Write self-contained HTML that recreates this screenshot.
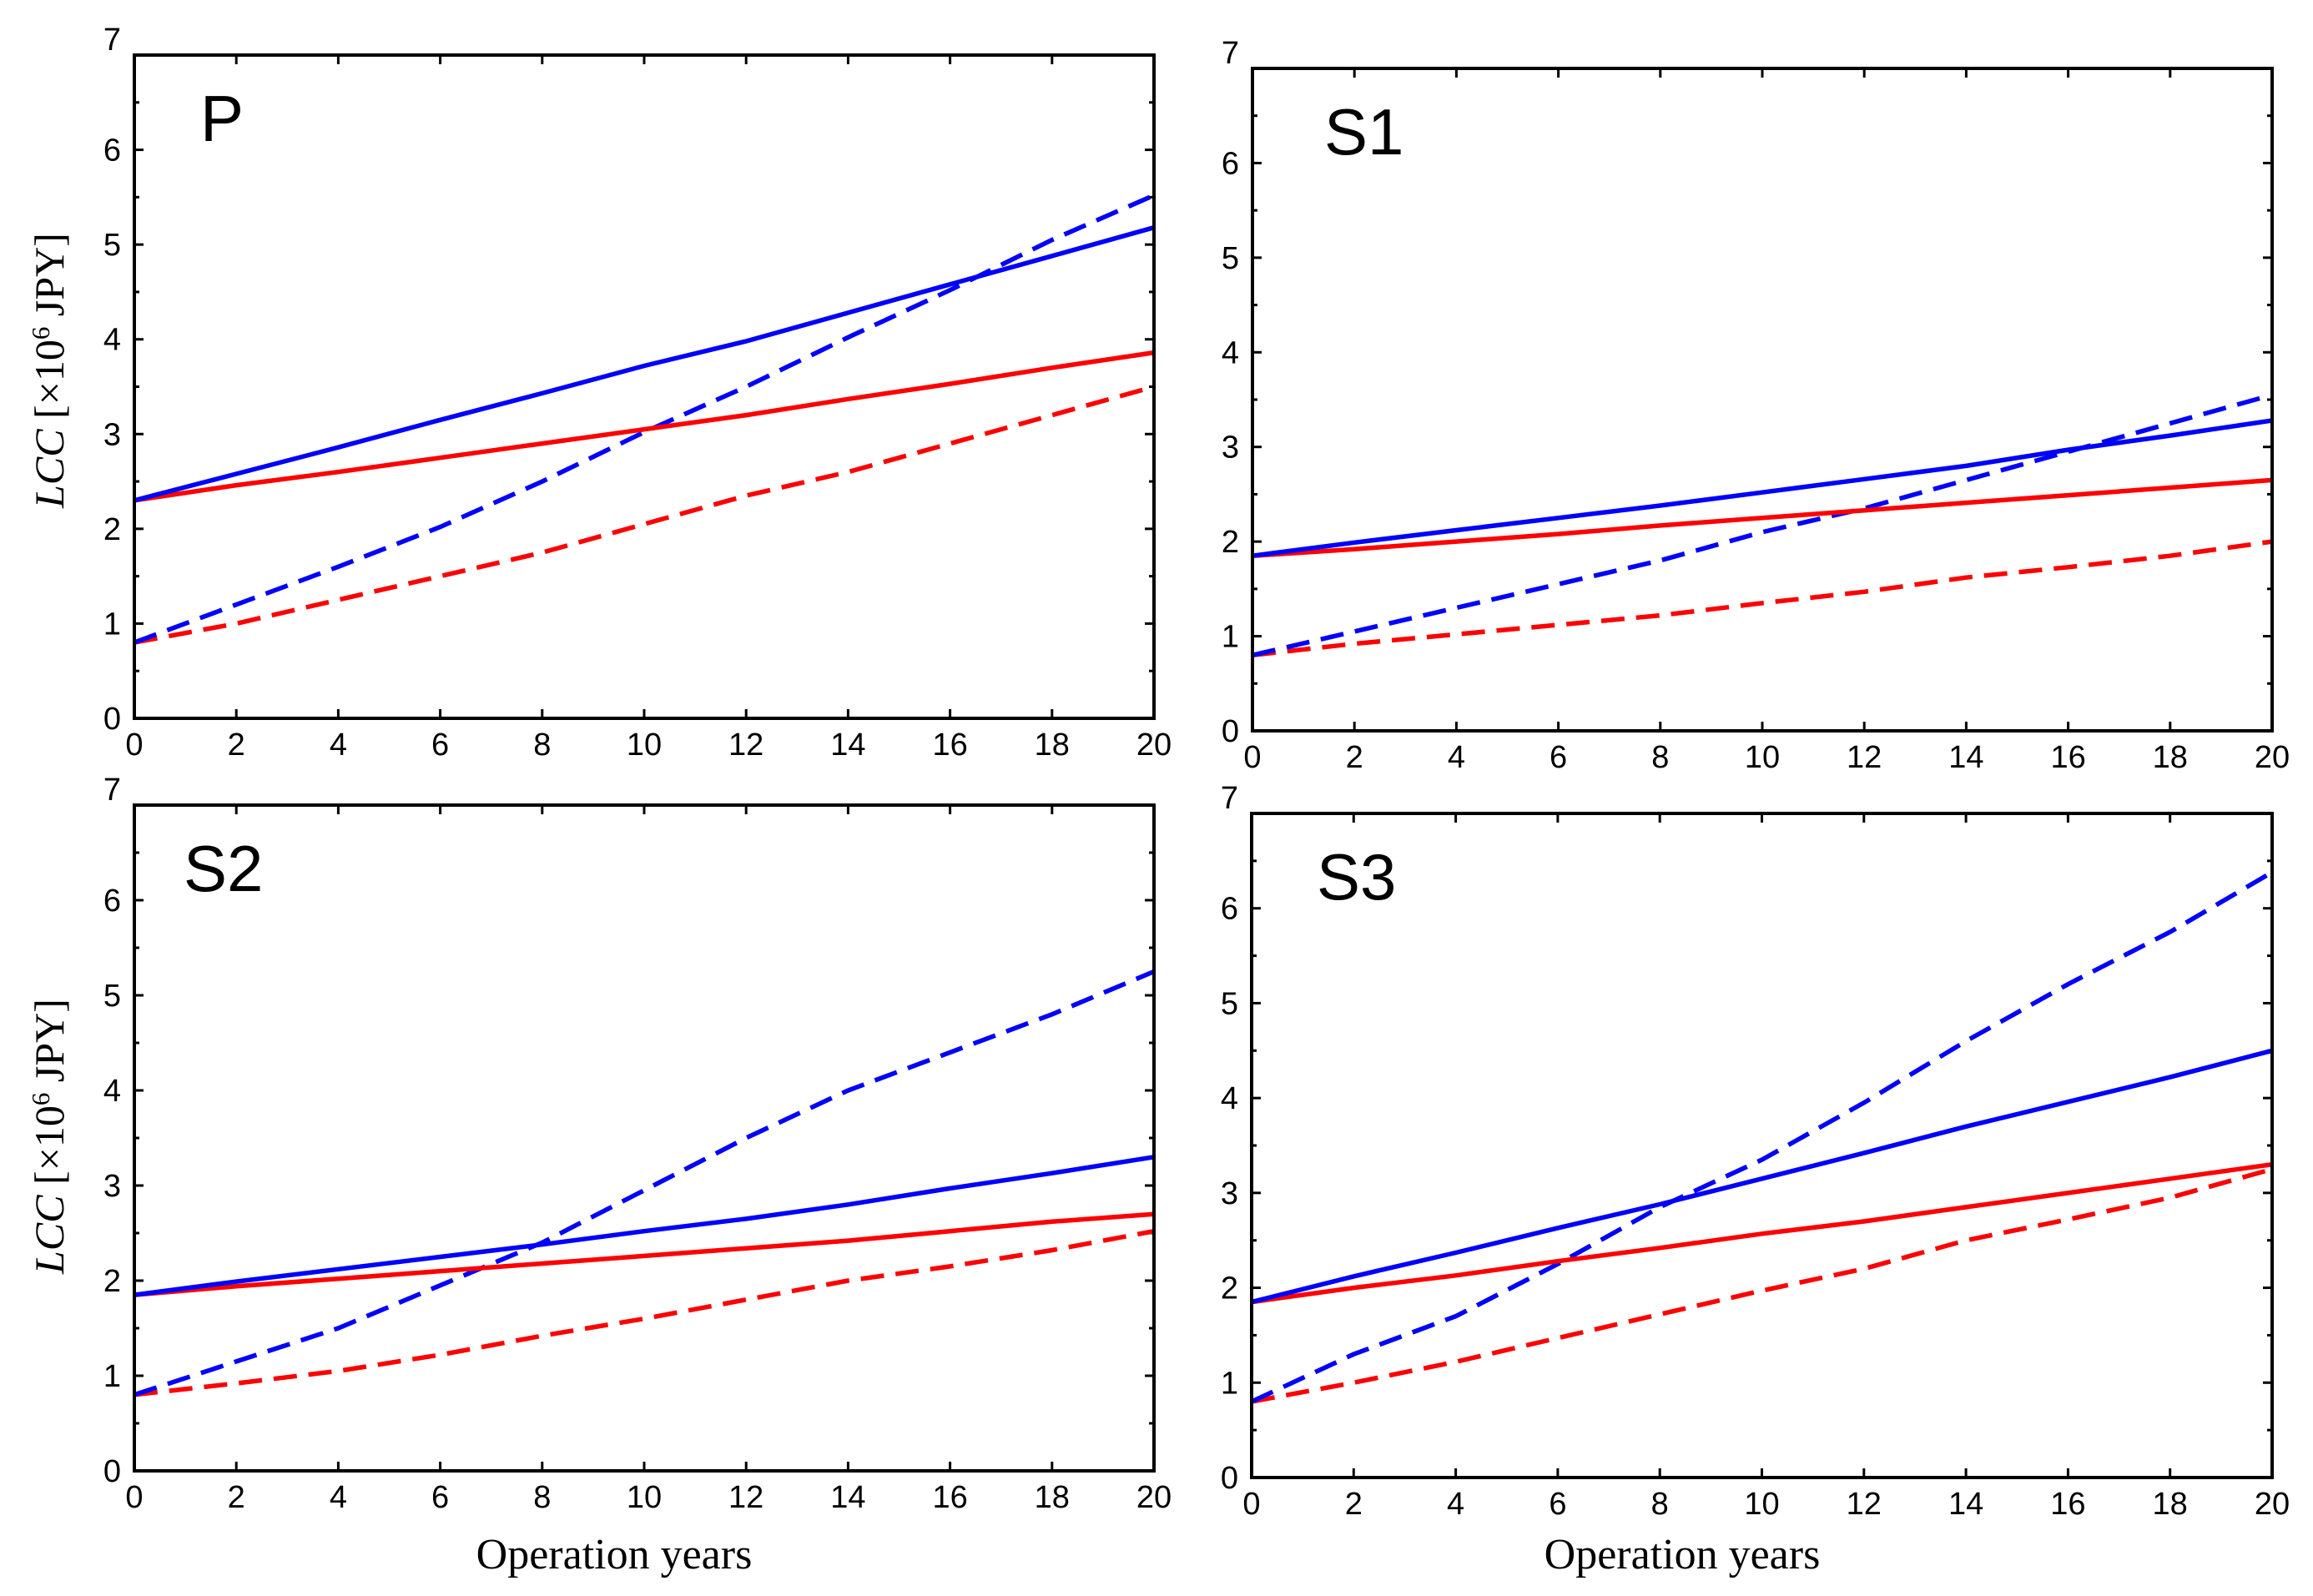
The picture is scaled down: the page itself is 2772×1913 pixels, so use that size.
<!DOCTYPE html>
<html><head><meta charset="utf-8"><style>
html,body{margin:0;padding:0;background:#fff;}
svg{display:block;}
</style></head><body>
<svg id="fig" width="2772" height="1913" xmlns="http://www.w3.org/2000/svg"></svg>
<script>
const years = [0,2,4,6,8,10,12,14,16,18,20];
const xTicks = [0,2,4,6,8,10,12,14,16,18,20];
const yTicks = [0,1,2,3,4,5,6,7];
const panelNames = ["P","S1","S2","S3"];
const P_blueSolid = [2.3,2.58,2.86,3.15,3.43,3.72,3.98,4.28,4.58,4.88,5.18];
const P_blueDash  = [0.8,1.2,1.6,2.02,2.5,3.02,3.5,4.02,4.52,5.05,5.52];
const P_redSolid  = [2.3,2.46,2.6,2.75,2.9,3.05,3.2,3.37,3.53,3.7,3.86];
const P_redDash   = [0.8,1.0,1.25,1.5,1.75,2.05,2.35,2.6,2.9,3.2,3.5];
const S1_blueSolid = [1.85,1.99,2.12,2.25,2.38,2.52,2.66,2.8,2.97,3.12,3.28];
const S1_blueDash  = [0.8,1.05,1.3,1.55,1.8,2.1,2.35,2.65,2.95,3.25,3.55];
const S1_redSolid  = [1.85,1.92,2.0,2.08,2.17,2.25,2.33,2.41,2.49,2.57,2.65];
const S1_redDash   = [0.8,0.92,1.02,1.12,1.22,1.35,1.47,1.62,1.73,1.85,2.0];
const S2_blueSolid = [1.85,1.99,2.12,2.25,2.38,2.52,2.65,2.8,2.97,3.13,3.3];
const S2_blueDash  = [0.8,1.15,1.5,1.95,2.4,2.95,3.5,4.0,4.4,4.8,5.25];
const S2_redSolid  = [1.85,1.94,2.02,2.1,2.18,2.26,2.34,2.42,2.52,2.62,2.7];
const S2_redDash   = [0.8,0.92,1.05,1.22,1.42,1.6,1.8,2.0,2.15,2.32,2.52];
const S3_blueSolid = [1.85,2.12,2.37,2.63,2.88,3.15,3.42,3.7,3.96,4.22,4.5];
const S3_blueDash  = [0.8,1.3,1.7,2.25,2.85,3.35,3.95,4.6,5.2,5.75,6.38];
const S3_redSolid  = [1.85,2.0,2.13,2.28,2.42,2.57,2.7,2.85,3.0,3.15,3.3];
const S3_redDash   = [0.8,1.0,1.22,1.47,1.72,1.97,2.2,2.5,2.72,2.95,3.25];

const NS = "http://www.w3.org/2000/svg";
const svg = document.getElementById("fig");
function mk(tag, attrs, parent){
  const e = document.createElementNS(NS, tag);
  for (const k in attrs) e.setAttribute(k, attrs[k]);
  (parent||svg).appendChild(e);
  return e;
}
const frames = [
  {l:161,t:66,r:1383,b:861},
  {l:1501,t:82,r:2723,b:876},
  {l:161,t:965,r:1383,b:1763},
  {l:1500,t:975,r:2723,b:1771}
];
const labelX = [240,1587,220,1578];
const series = [
  [P_redDash,P_blueDash,P_redSolid,P_blueSolid],
  [S1_redDash,S1_blueDash,S1_redSolid,S1_blueSolid],
  [S2_redDash,S2_blueDash,S2_redSolid,S2_blueSolid],
  [S3_redDash,S3_blueDash,S3_redSolid,S3_blueSolid]
];
const styles = [
  {c:"#ff0000",d:"28,14",n:"red-dashed-line"},
  {c:"#0000ff",d:"28,14",n:"blue-dashed-line"},
  {c:"#ff0000",d:"",n:"red-solid-line"},
  {c:"#0000ff",d:"",n:"blue-solid-line"}
];
frames.forEach((f,pi)=>{
  const g = mk("g",{});
  
  
  const xs = v => f.l + (v-0)/20*(f.r-f.l);
  const ys = v => f.b - v/7*(f.b-f.t);
  xTicks.forEach(v=>{
    const x = xs(v);
    mk("line",{x1:x,y1:f.b,x2:x,y2:f.b-11,stroke:"#000","stroke-width":3},g);
    mk("line",{x1:x,y1:f.t,x2:x,y2:f.t+11,stroke:"#000","stroke-width":3},g);
    const t = mk("text",{x:x,y:f.b+44,"text-anchor":"middle","font-family":"Liberation Sans, sans-serif","font-size":38},g);
    
    
    t.textContent = v;
  });
  yTicks.forEach(v=>{
    const y = ys(v);
    mk("line",{x1:f.l,y1:y,x2:f.l+11,y2:y,stroke:"#000","stroke-width":3},g);
    mk("line",{x1:f.r,y1:y,x2:f.r-11,y2:y,stroke:"#000","stroke-width":3},g);
    if (v<7){
      const ym = ys(v+0.5);
      mk("line",{x1:f.l,y1:ym,x2:f.l+6,y2:ym,stroke:"#000","stroke-width":3},g);
      mk("line",{x1:f.r,y1:ym,x2:f.r-6,y2:ym,stroke:"#000","stroke-width":3},g);
    }
    const t = mk("text",{x:f.l-16,y:y+(v===7?-6:13),"text-anchor":"end","font-family":"Liberation Sans, sans-serif","font-size":38},g);
    
    
    t.textContent = v;
  });
  series[pi].forEach((arr,si)=>{
    const pts = arr.map((v,i)=>xs(years[i]).toFixed(1)+","+ys(v).toFixed(1)).join(" ");
    const pl = mk("polyline",{points:pts,fill:"none",stroke:styles[si].c,"stroke-width":5.5,"stroke-dasharray":styles[si].d||"none"},g);
    
    
  });
  const fr = mk("rect",{x:f.l,y:f.t,width:f.r-f.l,height:f.b-f.t,fill:"none",stroke:"#000","stroke-width":4},g);
  
  
  const lab = mk("text",{x:labelX[pi],y:f.t+103,"font-family":"Liberation Sans, sans-serif","font-size":78},g);
  
  
  lab.textContent = panelNames[pi];
});
[444,1362].forEach(cy=>{
  const t = mk("text",{x:0,y:0,transform:"translate(76,"+cy+") rotate(-90)","text-anchor":"middle","font-family":"Liberation Serif, serif","font-size":50});
  
  
  t.innerHTML = '<tspan font-style="italic">LCC</tspan> [×10<tspan baseline-shift="super" font-size="31">6</tspan> JPY]';
});
[[736,1880],[2016,1880]].forEach(p=>{
  const t = mk("text",{x:p[0],y:p[1],"text-anchor":"middle","font-family":"Liberation Serif, serif","font-size":52});
  
  
  t.textContent = "Operation years";
});
</script>
</body></html>
